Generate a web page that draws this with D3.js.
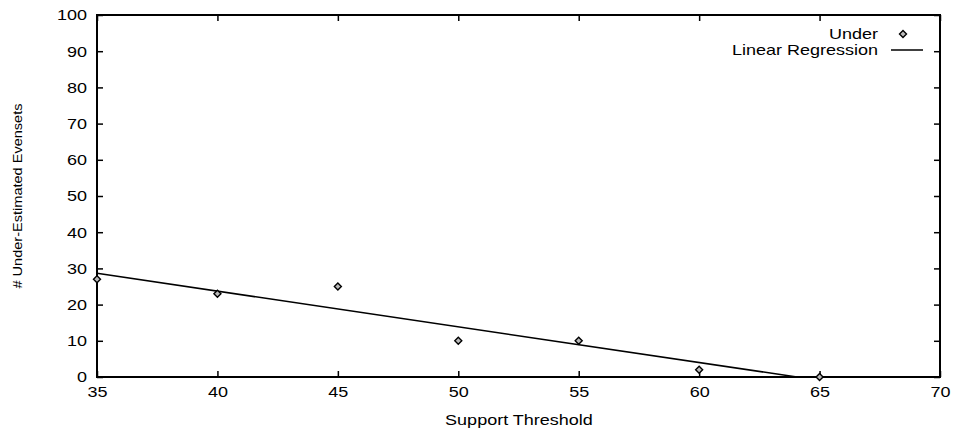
<!DOCTYPE html>
<html>
<head>
<meta charset="utf-8">
<script src="https://cdn.jsdelivr.net/npm/d3@7"></script>
<style>
  body { margin: 0; background: #fff; }
  svg { font-family: "Liberation Sans", Arial, sans-serif; }
</style>
</head>
<body>
<svg width="957" height="437"></svg>
<script>
// data
const thresholds = [35, 40, 45, 50, 55, 60, 65];
const underCounts = [27, 23, 25, 10, 10, 2, 0];
const regX = [35, 64.06];
const regY = [28.64, 0];
const xTicks = [35, 40, 45, 50, 55, 60, 65, 70];
const yTicks = [0, 10, 20, 30, 40, 50, 60, 70, 80, 90, 100];

const svg = d3.select('svg');
const plotLeft = 97, plotRight = 940, plotTop = 15, plotBottom = 377;

const x = d3.scaleLinear().domain([35, 70]).range([plotLeft, plotRight]);
const y = d3.scaleLinear().domain([0, 100]).range([plotBottom, plotTop]);

const tickLen = 6;
const fontSize = '15px';
// the original text is a bit wider than the font, stretch it
const stretch = 1.2;

// ticks inside, mirrored
svg.append('g')
  .attr('transform', `translate(0,${plotBottom})`)
  .call(d3.axisBottom(x).tickValues(xTicks).tickSize(-tickLen).tickPadding(9))
  .call((g) => g.select('.domain').remove());
svg.append('g')
  .attr('transform', `translate(0,${plotTop})`)
  .call(d3.axisTop(x).tickValues(xTicks).tickSize(-tickLen).tickFormat(''))
  .call((g) => g.select('.domain').remove());
svg.append('g')
  .attr('transform', `translate(${plotLeft},0)`)
  .call(d3.axisLeft(y).tickValues(yTicks).tickSize(-tickLen).tickPadding(10))
  .call((g) => g.select('.domain').remove());
svg.append('g')
  .attr('transform', `translate(${plotRight},0)`)
  .call(d3.axisRight(y).tickValues(yTicks).tickSize(-tickLen).tickFormat(''))
  .call((g) => g.select('.domain').remove());

svg.selectAll('.tick line').attr('stroke', '#000').attr('stroke-width', 1.5);
svg.selectAll('.tick text')
  .attr('fill', '#000')
  .style('font-size', fontSize)
  .style('font-family', '"Liberation Sans", Arial, sans-serif');

// regression line
svg.append('path')
  .datum(regX.map((d, i) => [d, regY[i]]))
  .attr('fill', 'none')
  .attr('stroke', '#000')
  .attr('stroke-width', 1.5)
  .attr('d', d3.line().x((d) => x(d[0])).y((d) => y(d[1])));

// frame
svg.append('rect')
  .attr('x', plotLeft).attr('y', plotTop)
  .attr('width', plotRight - plotLeft).attr('height', plotBottom - plotTop)
  .attr('fill', 'none').attr('stroke', '#000').attr('stroke-width', 2);

// diamonds
const diamond = (cx, cy, r) =>
  `M${cx},${cy - r}L${cx + r},${cy}L${cx},${cy + r}L${cx - r},${cy}Z`;

svg.selectAll('.pt')
  .data(thresholds)
  .enter()
  .append('path')
  .attr('class', 'pt')
  .attr('d', (d, i) => diamond(x(d), y(underCounts[i]), 3.5))
  .attr('fill', '#bbb')
  .attr('stroke', '#000')
  .attr('stroke-width', 1.4);

// legend
svg.append('text')
  .attr('class', 'wide')
  .attr('x', 878).attr('y', 39)
  .attr('text-anchor', 'end')
  .style('font-size', fontSize)
  .text('Under');
svg.append('path')
  .attr('d', diamond(903, 34, 3.5))
  .attr('fill', '#bbb').attr('stroke', '#000').attr('stroke-width', 1.4);
svg.append('text')
  .attr('class', 'wide')
  .attr('x', 878).attr('y', 55)
  .attr('text-anchor', 'end')
  .style('font-size', fontSize)
  .text('Linear Regression');
svg.append('line')
  .attr('x1', 891).attr('x2', 923)
  .attr('y1', 50).attr('y2', 50)
  .attr('stroke', '#000').attr('stroke-width', 1.5);

// axis titles
svg.append('text')
  .attr('class', 'wide')
  .attr('x', 519).attr('y', 425)
  .attr('text-anchor', 'middle')
  .style('font-size', fontSize)
  .text('Support Threshold');
svg.append('text')
  .attr('transform', `translate(22,${(plotTop + plotBottom) / 2}) rotate(-90)`)
  .attr('text-anchor', 'middle')
  .attr('textLength', 185)
  .attr('lengthAdjust', 'spacingAndGlyphs')
  .style('font-size', '12.5px')
  .text('# Under-Estimated Evensets');

svg.selectAll('.tick text, text.wide').each(function () {
  const len = this.getComputedTextLength();
  if (len > 0) {
    d3.select(this)
      .attr('textLength', len * stretch)
      .attr('lengthAdjust', 'spacingAndGlyphs');
  }
});
</script>
</body>
</html>
